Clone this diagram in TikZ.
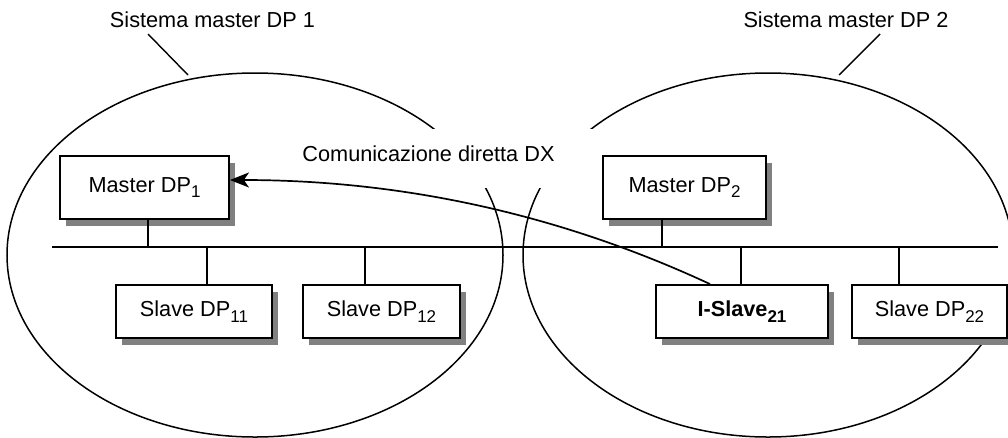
\documentclass[tikz,border=0pt]{standalone}
\usepackage{fontspec}
\setmainfont{Liberation Sans}
\usetikzlibrary{arrows.meta}
\definecolor{shadowc}{RGB}{128,128,128}
% lowered, smaller index digits for station names
\newcommand\dpsub[1]{\raisebox{-0.27em}{\fontsize{17}{17}\selectfont #1}}

\begin{document}
\begin{tikzpicture}[x=1pt,y=-1pt,
  font=\fontsize{21.7}{26}\selectfont,
  station/.style={draw,line width=1.9pt,fill=white,inner sep=0pt},
  shadowbox/.style={fill=shadowc,draw=none},
  bus/.style={line width=1.7pt},
  region/.style={line width=1.5pt},
  pointer/.style={line width=1.4pt},
  dxlink/.style={line width=1.7pt,-{Stealth[length=19pt,width=15pt,inset=5pt]}}]

\path[use as bounding box] (0,0) rectangle (1008,437);

% the two master systems
\begin{scope}
\clip (0,0) rectangle (1008,437);
\draw[region] (255,255) ellipse [x radius=248, y radius=182];
\draw[region] (768,255) ellipse [x radius=245, y radius=182];
\end{scope}

% system captions and their pointers
\node[anchor=base] (sys1) at (212.5,27) {Sistema master DP 1};
\node[anchor=base] (sys2) at (846,27) {Sistema master DP 2};
\coordinate (p1a) at (148,34);
\coordinate (p1b) at (188,75);
\coordinate (p2a) at (880,34);
\coordinate (p2b) at (839,75);
\draw[pointer] (p1a) -- (p1b);
\draw[pointer] (p2a) -- (p2b);

% caption of the direct data exchange (white ground breaks the outlines)
\node[fill=white,inner xsep=42pt,inner ysep=0pt,text height=32pt,text depth=27pt,anchor=base]
  (dx) at (428.5,161) {Comunicazione diretta DX};

% drop shadows of the stations
\path[shadowbox] (66,163) rectangle (235,226);
\path[shadowbox] (609,163) rectangle (772,226);
\path[shadowbox] (122,292) rectangle (278,345);
\path[shadowbox] (309,292) rectangle (466,345);
\path[shadowbox] (662,292) rectangle (834,345);
\path[shadowbox] (858,292) rectangle (1008,345);

% stations
\node[station,minimum width=169pt,minimum height=63pt] (m1) at (144.5,187.5) {Master DP\dpsub{1}};
\node[station,minimum width=163pt,minimum height=63pt] (m2) at (684.5,187.5) {Master DP\dpsub{2}};
\node[station,minimum width=156pt,minimum height=53pt] (s11) at (194,311.5) {Slave DP\dpsub{11}};
\node[station,minimum width=157pt,minimum height=53pt] (s12) at (381.5,311.5) {Slave DP\dpsub{12}};
\node[station,minimum width=172pt,minimum height=53pt] (is21) at (742,311.5) {\bfseries I-Slave\dpsub{\bfseries 21}};
\node[station,minimum width=155pt,minimum height=53pt] (s22) at (929.5,311.5) {Slave DP\dpsub{22}};

% PROFIBUS line and drops
\coordinate (busL) at (52,247);
\coordinate (busR) at (998,247);
\draw[bus] (busL) -- (busR);
\coordinate (t1) at (148,247);
\coordinate (t2) at (662,247);
\coordinate (b11) at (207,247);
\coordinate (b12) at (365,247);
\coordinate (b21) at (741,247);
\coordinate (b22) at (899,247);
\draw[bus] (m1.south -| t1) -- (t1);
\draw[bus] (m2.south -| t2) -- (t2);
\draw[bus] (b11) -- (s11.north -| b11);
\draw[bus] (b12) -- (s12.north -| b12);
\draw[bus] (b21) -- (is21.north -| b21);
\draw[bus] (b22) -- (s22.north -| b22);

% direct exchange from the intelligent slave to master 1
\draw[dxlink] ([xshift=-32pt]is21.north) .. controls (540,205) and (379,180) .. ([yshift=7.5pt]m1.east);
\end{tikzpicture}
\end{document}
